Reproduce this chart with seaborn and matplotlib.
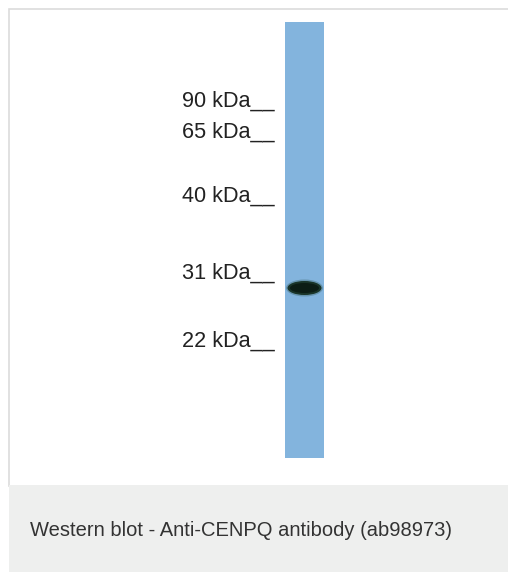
import numpy as np
import matplotlib
matplotlib.use("Agg")
import matplotlib.pyplot as plt
import seaborn as sns
from matplotlib.patches import Rectangle, Ellipse

# -------------------------------
# DATA
# -------------------------------
marker_labels = ["90 kDa", "65 kDa", "40 kDa", "31 kDa", "22 kDa"]
marker_pos = [107, 138, 202, 279, 347]      # migration (px from top)
band_pos = [288]                            # detected band migration
band_strength = [1.0]
lane_top, lane_bottom = 22, 458
caption = "Western blot - Anti-CENPQ antibody (ab98973)"

sns.set_theme(style="white")
plt.rcParams["font.family"] = ["Liberation Sans", "DejaVu Sans"]

W, H = 508, 572
fig = plt.figure(figsize=(W / 100, H / 100), dpi=100)
ax = fig.add_axes([0, 0, 1, 1])
ax.set_xlim(0, W)
ax.set_ylim(H, 0)
ax.axis("off")

# panel frame + caption box
ax.add_patch(Rectangle((8.5, 8.5), W, 477, facecolor="white",
                       edgecolor="#dcdcdc", lw=1.2, zorder=0))
ax.add_patch(Rectangle((9, 485), W, H - 485, facecolor="#eeefee",
                       edgecolor="none", zorder=1))

# lane
lane_x = 304.5
ax.bar([lane_x], [lane_bottom - lane_top], bottom=[lane_top], width=39,
       color="#83b4dd", edgecolor="none", zorder=2)

# band(s)
for y, s in zip(band_pos, band_strength):
    ax.add_patch(Ellipse((lane_x, y), 37, 17, color="#3c6468",
                         alpha=0.4 * s, lw=0, zorder=3))
    ax.add_patch(Ellipse((lane_x, y), 34, 14, color="#1a3529",
                         alpha=s, lw=0, zorder=4))
    ax.add_patch(Ellipse((lane_x, y), 29, 10, color="#0c1d15",
                         alpha=s, lw=0, zorder=5))

# marker labels
for lab, y in zip(marker_labels, marker_pos):
    ax.text(275, y, lab + "__", ha="right", va="baseline",
            fontsize=15.6, color="#222222", zorder=6)

ax.text(30, 536, caption, ha="left", va="baseline", fontsize=14.5,
        color="#333333", zorder=6)

fig.savefig("out.png", dpi=100)
